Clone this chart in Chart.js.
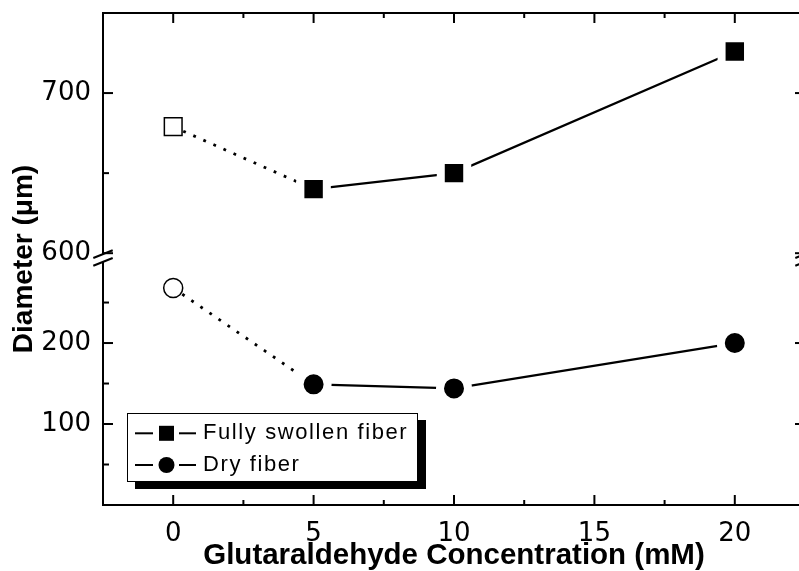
<!DOCTYPE html>
<html>
<head>
<meta charset="utf-8">
<script src="https://cdn.jsdelivr.net/npm/chart.js"></script>
<style>
  html, body { margin: 0; padding: 0; background: #fff; overflow: hidden; }
  #wrap { width: 815px; height: 571px; }
</style>
</head>
<body>
<div id="wrap"><canvas id="c" width="815" height="571"></canvas></div>
<script>
// Fiber diameter versus glutaraldehyde concentration
const concentrations = [0, 5, 10, 20];          // mM
const swollenDiameter = [679, 640, 650, 726];   // µm, fully swollen
const dryDiameter = [268, 149, 144, 200];       // µm, dry
const seriesLabels = ['Fully swollen fiber', 'Dry fiber'];

const xTicks = [0, 5, 10, 15, 20];
const xMinorTicks = [2.5, 7.5, 12.5, 17.5];
const upperTicks = [600, 700];
const upperMinorTicks = [650];
const lowerTicks = [100, 200];
const lowerMinorTicks = [50, 150, 250];

const tickFont = { family: '"DejaVu Sans", sans-serif', size: 26 };
const titleFamily = '"Liberation Sans", Arial, sans-serif';

function toPoints(ys) {
  return concentrations.map((x, i) => ({ x: x, y: ys[i] }));
}

// untreated sample (first point) is drawn open, the others filled with a white halo
function markerOptions(filledRadius, openRadius) {
  return {
    pointRadius: c => c.dataIndex === 0 ? openRadius : filledRadius,
    pointHoverRadius: c => c.dataIndex === 0 ? openRadius : filledRadius,
    pointBackgroundColor: c => c.dataIndex === 0 ? '#fff' : '#000',
    pointBorderColor: c => c.dataIndex === 0 ? '#000' : '#fff',
    pointBorderWidth: c => c.dataIndex === 0 ? 1.5 : 8
  };
}

// the segment leaving the untreated sample is dotted
const dottedFirst = {
  borderDash: c => c.p0DataIndex === 0 ? [2.8, 8.2] : undefined,
  borderWidth: c => c.p0DataIndex === 0 ? 2.8 : undefined
};

function fixedTicks(values) {
  return scale => { scale.ticks = values.map(v => ({ value: v })); };
}

// fixed box size, no extra room reserved for overhanging labels
function fixedSize(prop, size) {
  return scale => {
    scale[prop] = size;
    scale.paddingTop = 0;
    scale.paddingBottom = 0;
    scale.paddingLeft = 0;
    scale.paddingRight = 0;
  };
}

const seg = (ctx, x1, y1, x2, y2) => {
  ctx.beginPath(); ctx.moveTo(x1, y1); ctx.lineTo(x2, y2); ctx.stroke();
};

// plot frame, inward ticks on all four sides and the axis break marks
const framePlugin = {
  id: 'frame',
  afterDraw(chart) {
    const { ctx, chartArea: a, scales } = chart;
    ctx.save();
    ctx.strokeStyle = '#000';
    ctx.lineWidth = 2;
    ctx.strokeRect(a.left, a.top, a.right - a.left, a.bottom - a.top);

    const xMarks = (values, len) => values.forEach(v => {
      const px = scales.x.getPixelForValue(v);
      seg(ctx, px, a.bottom, px, a.bottom - len);
      seg(ctx, px, a.top, px, a.top + len);
    });
    xMarks(xTicks, 10);
    xMarks(xMinorTicks, 5);

    const yMarks = (scale, values, len) => values.forEach(v => {
      const py = scale.getPixelForValue(v);
      seg(ctx, a.left, py, a.left + len, py);
      seg(ctx, a.right, py, a.right - len, py);
    });
    yMarks(scales.yHigh, upperTicks, 10);
    yMarks(scales.yHigh, upperMinorTicks, 6);
    yMarks(scales.yLow, lowerTicks, 10);
    yMarks(scales.yLow, lowerMinorTicks, 6);

    const yb = scales.yHigh.bottom;
    [a.left, a.right].forEach(x0 => {
      ctx.fillStyle = '#fff';
      ctx.fillRect(x0 - 2.5, yb - 3.85, 5, 7.7);
      seg(ctx, x0 - 9.7, yb, x0 + 9.7, yb - 7.7);
      seg(ctx, x0 - 9.7, yb + 7.7, x0 + 9.7, yb);
    });
    ctx.restore();
  }
};

// boxed legend with drop shadow inside the plot
const legendPlugin = {
  id: 'boxLegend',
  afterDraw(chart) {
    const ctx = chart.ctx;
    const box = { x: 127, y: 413, w: 291, h: 69 };
    ctx.save();
    ctx.fillStyle = '#000';
    ctx.fillRect(box.x + 8, box.y + 7, box.w, box.h);
    ctx.fillStyle = '#fff';
    ctx.fillRect(box.x, box.y, box.w, box.h);
    ctx.strokeStyle = '#000';
    ctx.lineWidth = 1;
    ctx.strokeRect(box.x + 0.5, box.y + 0.5, box.w - 1, box.h - 1);

    chart.data.datasets.forEach((ds, i) => {
      const cy = box.y + 20.3 + i * 31.7;
      ctx.strokeStyle = '#000';
      ctx.fillStyle = '#000';
      ctx.lineWidth = 2;
      seg(ctx, 135, cy, 153, cy);
      seg(ctx, 179, cy, 196, cy);
      if (ds.pointStyle === 'rect') {
        ctx.fillRect(166.5 - 7.5, cy - 7.5, 15, 15);
      } else {
        ctx.beginPath();
        ctx.arc(166.5, cy, 8, 0, Math.PI * 2);
        ctx.fill();
      }
      ctx.font = '22px ' + titleFamily;
      ctx.letterSpacing = '1.6px';
      ctx.textBaseline = 'middle';
      ctx.textAlign = 'left';
      ctx.fillText(ds.label, 203, cy);
    });
    ctx.restore();
  }
};

new Chart(document.getElementById('c'), {
  type: 'line',
  data: {
    datasets: [
      {
        label: seriesLabels[0],
        data: toPoints(swollenDiameter),
        yAxisID: 'yHigh',
        pointStyle: 'rect',
        borderColor: '#000',
        borderWidth: 2.3,
        fill: false,
        segment: dottedFirst,
        ...markerOptions(18.7, 12.5)
      },
      {
        label: seriesLabels[1],
        data: toPoints(dryDiameter),
        yAxisID: 'yLow',
        pointStyle: 'circle',
        borderColor: '#000',
        borderWidth: 2.3,
        fill: false,
        segment: dottedFirst,
        ...markerOptions(14, 9.5)
      }
    ]
  },
  options: {
    responsive: false,
    animation: false,
    events: [],
    layout: { autoPadding: false, padding: { top: 13, right: 10, left: 0, bottom: 0 } },
    plugins: { legend: { display: false }, tooltip: { enabled: false } },
    scales: {
      x: {
        type: 'linear',
        min: -2.5,
        max: 22.5,
        grid: { display: false, drawTicks: false },
        border: { display: false },
        afterBuildTicks: fixedTicks(xTicks),
        afterFit: fixedSize('height', 66),
        ticks: { font: tickFont, color: '#000', padding: 14, maxRotation: 0, autoSkip: false },
        title: {
          display: true,
          text: 'Glutaraldehyde Concentration (mM)',
          color: '#000',
          font: { family: titleFamily, size: 29.5, weight: 'bold', lineHeight: 1 },
          padding: { top: 0, bottom: 0 }
        }
      },
      yLow: {
        type: 'linear',
        position: 'left',
        stack: 'diameter',
        stackWeight: 247,
        min: 0,
        max: 305,
        grid: { display: false, drawTicks: false },
        border: { display: false },
        afterBuildTicks: fixedTicks(lowerTicks),
        afterFit: fixedSize('width', 65),
        ticks: { font: tickFont, color: '#000', padding: 12, autoSkip: false }
      },
      yHigh: {
        type: 'linear',
        position: 'left',
        stack: 'diameter',
        stackWeight: 245,
        min: 597,
        max: 750,
        grid: { display: false, drawTicks: false },
        border: { display: false },
        afterBuildTicks: fixedTicks(upperTicks),
        afterFit: fixedSize('width', 65),
        ticks: { font: tickFont, color: '#000', padding: 12, autoSkip: false }
      },
      yTitle: {
        type: 'linear',
        position: 'left',
        weight: 10,
        grid: { display: false, drawTicks: false },
        border: { display: false },
        ticks: { display: false },
        afterFit: fixedSize('width', 38),
        title: {
          display: true,
          text: 'Diameter (μm)',
          color: '#000',
          font: { family: titleFamily, size: 28, weight: 'bold', lineHeight: 1 },
          padding: { top: 10.5, bottom: 0 }
        }
      }
    }
  },
  plugins: [framePlugin, legendPlugin]
});
</script>
</body>
</html>
